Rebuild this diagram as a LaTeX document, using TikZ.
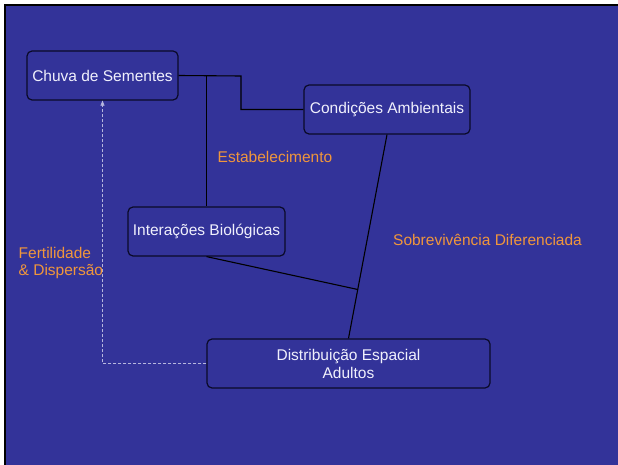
\documentclass[tikz,border=0pt]{standalone}
\usepackage{fontspec}
\setmainfont{Liberation Sans}
\usetikzlibrary{arrows.meta,calc}
\definecolor{bgblue}{RGB}{51,51,153}
\definecolor{lbl}{RGB}{240,150,60}
\definecolor{boxtext}{RGB}{240,240,252}
\definecolor{frame}{RGB}{10,10,40}
\begin{document}
\begin{tikzpicture}[x=1pt,y=-1pt,
  box/.style={draw=frame, line width=1.2pt, rounded corners=5pt, fill=bgblue,
    text=boxtext, font=\fontsize{15.5}{18}\selectfont, align=center, inner sep=0pt},
  link/.style={draw=black, line width=1.1pt},
  feed/.style={draw=boxtext!70!bgblue, line width=0.5pt, dash pattern=on 3pt off 2pt,
    -{Triangle[width=4pt,length=5pt]}},
  lab/.style={text=lbl, font=\fontsize{15.5}{17}\selectfont, inner sep=0pt}]
\useasboundingbox (0,0) rectangle (618,465);
\fill[white] (0,0) rectangle (618,465);
\fill[black] (4,4) rectangle (618,465);
\fill[bgblue] (6,6) rectangle (618,465);

\node[box, minimum width=151pt, minimum height=49pt] (chuva) at (102.5,75.5) {Chuva de Sementes};
\node[box, minimum width=166pt, minimum height=49pt] (cond) at (387,109.5) {Condições Ambientais};
\node[box, minimum width=157pt, minimum height=49pt] (inter) at (206.5,231.5) {Interações Biológicas};
\node[box, minimum width=283pt, minimum height=49pt] (dist) at (348.5,363.5) {Distribuição Espacial\\Adultos};

\coordinate (k1) at (241,76);
\coordinate (k2) at (241,109.5);
\coordinate (b1) at (inter.north |- chuva.east);
\coordinate (j) at ($(cond.south)!0.76!(dist.north)$);

\draw[link] (chuva.east) -- (k1) -- (k2) -- (cond.west);
\draw[link] (b1) -- (inter.north);
\draw[link] (cond.south) -- (dist.north);
\draw[link] (inter.south) -- (j);
\draw[feed] (dist.west) -| (chuva.south);

\node[lab] (estab) at (275,157) {Estabelecimento};
\node[lab] (sobre) at (487.5,240) {Sobrevivência Diferenciada};
\node[lab, anchor=west, align=left] (fert) at (18.5,263) {Fertilidade\\\& Dispersão};
\end{tikzpicture}
\end{document}
